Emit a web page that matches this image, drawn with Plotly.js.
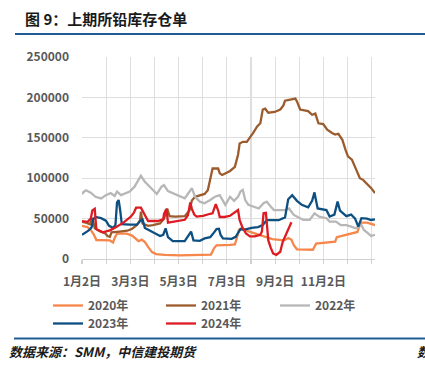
<!DOCTYPE html>
<html><head><meta charset="utf-8">
<script src="https://cdn.plot.ly/plotly-3.0.1.min.js"></script>
<style>html,body{margin:0;padding:0;background:#fff;} #chart{width:425px;height:365px;}</style>
</head><body><div id="chart"></div>
<script>
// x = days since 1月2日
const days2020 = [0,7,11,15,18,35,39,41,44,56,63,68,71,75,79,83,88,93,104,123,142,162,166,169,186,192,195,197,201,207,213,227,239,254,259,263,266,270,290,294,305,318,320,337,346,348,351,358,368];
const inv2020 = [40900,39500,36000,30000,23500,23000,20500,26000,31500,31500,29000,24500,22000,24000,21000,15000,8500,6000,5000,4500,5000,5500,13500,17000,17500,18000,28000,36000,38500,35000,33000,28000,24500,23000,26000,24000,17000,12000,11500,19000,20500,21500,27000,31500,33500,40000,45000,45000,42000];

const days2021 = [0,5,10,13,16,22,29,32,35,37,47,57,63,69,73,74,76,83,89,98,103,107,110,117,129,135,138,142,154,158,162,164,171,173,176,181,186,192,196,198,202,207,211,215,220,224,227,230,234,242,249,253,255,261,268,270,274,284,289,293,295,297,303,308,314,318,322,327,331,334,339,342,346,349,353,358,363,368];
const inv2021 = [46000,45000,43000,51000,38000,34500,32000,28500,27500,33000,34000,35000,37500,42000,48000,58500,44000,41000,42000,44000,50000,62500,53000,52500,53000,60000,72500,77000,80500,85000,103000,112000,112000,106000,104000,106000,109000,114000,129000,143000,145000,145000,150000,156000,164000,168000,185000,186000,181000,182000,185000,190000,196000,197000,198500,195000,185000,183000,178500,180000,175000,168000,167000,160000,156000,154000,155000,147500,135000,127000,123000,116500,108000,100000,98000,93500,88000,81500];

const days2022 = [0,2,5,11,17,24,30,36,41,44,49,54,60,66,70,74,79,85,88,94,100,103,108,115,125,129,138,142,148,154,161,167,173,180,186,191,196,199,202,205,209,216,222,228,232,237,241,255,260,266,274,278,286,292,298,307,311,319,325,332,338,344,351,354,359,363,368];
const inv2022 = [80000,83000,85000,82000,77000,75000,79000,81500,78000,83500,79000,81000,83500,89500,96000,103000,95500,89500,85500,80500,89500,91500,84000,81000,77000,75000,87600,77000,71000,69000,73000,77000,79000,67000,77000,72000,77000,83500,85500,73000,67000,65000,62500,69000,71000,65000,60500,60500,62500,54500,50500,48300,48300,56600,52500,50500,46300,46300,42000,42000,40000,38000,42000,36000,32000,28500,30000];

const days2023 = [0,5,8,12,14,17,24,30,34,39,42,44,46,48,50,60,69,73,76,79,85,91,98,102,105,108,114,129,134,137,140,148,154,161,164,169,172,174,177,188,193,197,199,203,213,221,227,232,247,255,259,264,270,276,284,289,292,294,296,307,311,317,321,324,332,338,343,347,351,358,363,368];
const inv2023 = [30000,33000,35000,39000,49000,52000,50500,47500,41000,38500,42000,70000,73000,60000,43000,42500,42500,47000,49000,38500,35500,33000,28500,30000,38000,27000,22000,22000,29500,34000,23000,22500,25500,27000,30500,37000,37500,30000,25500,25000,27500,33000,37000,36000,38500,39500,42000,48000,48000,51500,74000,79000,72000,67000,64000,72000,82500,72000,62500,60500,52500,55000,71000,60000,53000,55000,50000,40000,50500,50000,48300,49000];

const days2024 = [0,7,11,13,16,18,26,35,41,47,52,57,61,65,68,74,79,83,95,102,103,106,108,117,123,129,133,136,138,141,144,152,161,164,168,171,173,179,186,191,196,198,202,206,211,217,224,226,228,231,234,237,240,244,249,252,256,260,263];
const inv2024 = [47000,46000,50000,60000,62000,37000,33000,35500,38500,42000,45000,49000,52000,57000,63500,63500,54000,47000,47000,49000,56000,62000,45000,46500,47000,48500,54000,70000,62000,55000,52500,53500,56000,56500,68000,60000,52000,52000,53500,57000,60500,48000,38000,31500,28000,28000,30000,34000,56500,57000,23000,14000,7000,5000,9000,21000,30000,37000,45500];

const seriesNames = ['2020年','2021年','2022年','2023年','2024年'];
const xTickLabels = ['1月2日','3月3日','5月3日','7月3日','9月2日','11月2日'];
const yTicks = [0,50000,100000,150000,200000,250000];

const seriesX = [days2020, days2021, days2022, days2023, days2024];
const seriesY = [inv2020, inv2021, inv2022, inv2023, inv2024];
const colors = ['#F7864A','#9C5B2D','#B7B7B7','#0E4F82','#DC1B23'];
const legendIds = ['legend','legend2','legend3','legend4','legend5'];

const traces = seriesNames.map((n,i)=>({
  type:'scatter', mode:'lines', name:n, x:seriesX[i], y:seriesY[i], legend:legendIds[i],
  line:{color:colors[i], width:2.3}, hoverinfo:'skip'
}));

const gridStep = 30.33;
const xTickVals = [], xTickText = [];
for (let k=0;k<=12;k++){ xTickVals.push(k*gridStep); xTickText.push(k%2===0 && k/2<xTickLabels.length ? xTickLabels[k/2] : ''); }

const W=425,H=365,L=82,R=50,T=57,B=106;
const pw=W-L-R, ph=H-T-B;
const px2x = p => (p-L)/pw;
const py2y = p => (H-B-p)/ph;
const cjk = '"Noto Sans CJK SC", "Noto Sans", sans-serif';

const legendPos = [[48,291],[161,291],[275,291],[48,309],[161,309]];

const layout = {
  width:W, height:H,
  margin:{l:L,r:R,t:T,b:B,pad:0},
  paper_bgcolor:'#fff', plot_bgcolor:'#fff',
  font:{family:cjk, size:12, color:'#595959'},
  title:{text:'图 9：上期所铅库存仓单', x:25/W, xanchor:'left', xref:'container', y:1-20/H, yanchor:'middle', yref:'container',
    font:{family:cjk, size:15, color:'#1a1a1a', weight:'bold'}},
  xaxis:{range:[0,368], tickmode:'array', tickvals:xTickVals, ticktext:xTickText,
    showgrid:true, gridcolor:'#dedede', gridwidth:1.2, zeroline:false,
    showline:true, linecolor:'#d0d0d0', linewidth:1.2,
    ticks:'outside', ticklen:4, tickcolor:'#d0d0d0', tickwidth:1.2, ticklabelstandoff:7,
    tickfont:{family:cjk, size:12, color:'#595959', weight:'bold'}, fixedrange:true},
  yaxis:{range:[0,250000], tickmode:'array', tickvals:yTicks, tickformat:'d',
    showgrid:true, gridcolor:'#dedede', gridwidth:1.2, zeroline:false, showline:false,
    ticklabelstandoff:12,
    tickfont:{family:cjk, size:12, color:'#595959', weight:'bold'}, fixedrange:true},
  showlegend:true,
  shapes:[
    {type:'line', xref:'paper', yref:'paper', x0:px2x(15), x1:px2x(425), y0:py2y(34), y1:py2y(34), line:{color:'#1F5C96', width:2.2}},
    {type:'line', xref:'paper', yref:'paper', x0:px2x(14), x1:px2x(425), y0:py2y(338.5), y1:py2y(338.5), line:{color:'#1F5C96', width:2.2}}
  ],
  annotations:[
    {text:'数据来源：SMM，中信建投期货', xref:'paper', yref:'paper', x:px2x(7), y:py2y(351), xanchor:'left', yanchor:'middle', showarrow:false,
      font:{family:cjk, size:13, color:'#1a1a1a', style:'italic', weight:'bold'}},
    {text:'数', xref:'paper', yref:'paper', x:px2x(415), y:py2y(351), xanchor:'left', yanchor:'middle', showarrow:false,
      font:{family:cjk, size:13, color:'#1a1a1a', style:'italic', weight:'bold'}}
  ]
};
legendIds.forEach((id,i)=>{
  layout[id] = {orientation:'h', xref:'container', yref:'container', x:legendPos[i][0]/W, xanchor:'left',
    y:1-legendPos[i][1]/H, yanchor:'top', itemwidth:30,
    font:{family:cjk, size:12, color:'#595959', weight:'bold'}, bgcolor:'rgba(0,0,0,0)'};
});
Plotly.newPlot('chart', traces, layout, {displayModeBar:false, staticPlot:true});
</script></body></html>
